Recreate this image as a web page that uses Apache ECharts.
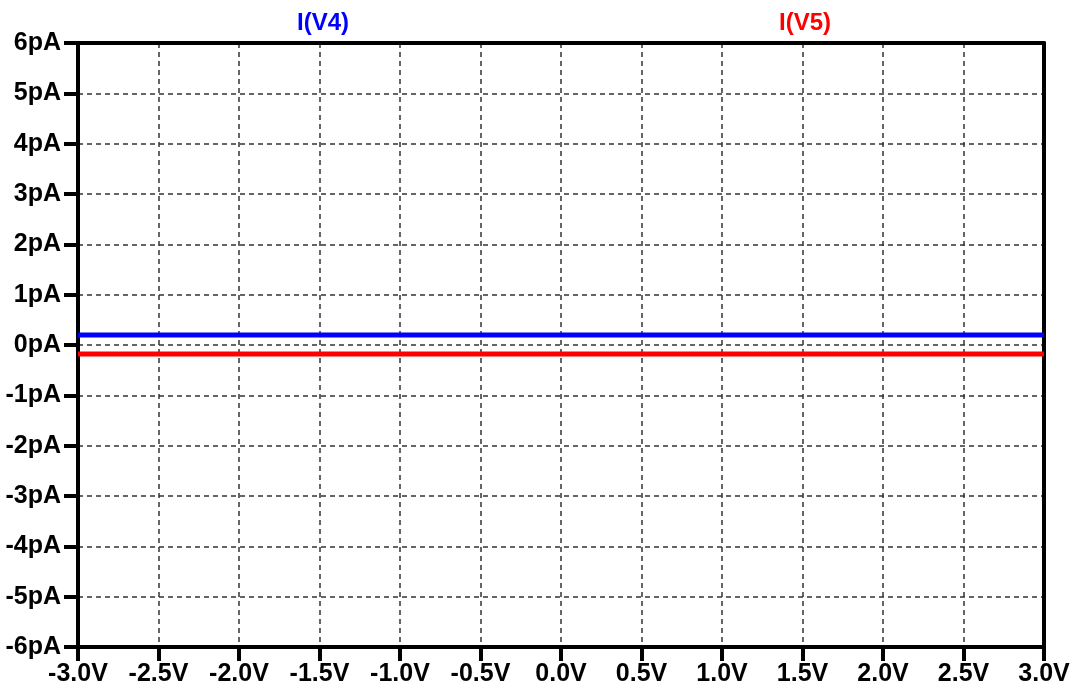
<!DOCTYPE html>
<html>
<head>
<meta charset="utf-8">
<script src="https://cdn.jsdelivr.net/npm/echarts@6/dist/echarts.min.js"></script>
<style>
  html, body { margin: 0; padding: 0; background: #fff; }
  #chart { width: 1080px; height: 694px; }
</style>
</head>
<body>
<div id="chart"></div>
<script>
// Sweep of the source voltage (V) and the two measured branch currents (pA)
const sweepVolts = [-3.0, 3.0];
const currentV4 = [0.2, 0.2];
const currentV5 = [-0.18, -0.18];
const traceNames = ['I(V4)', 'I(V5)'];
const traceColors = ['#0000ff', '#ff0000'];

const FONT = '"Liberation Sans", Arial, sans-serif';

function pairs(xs, ys) {
  return xs.map((x, i) => [x, ys[i]]);
}

const chart = echarts.init(document.getElementById('chart'), null, { renderer: 'canvas' });

const frameLine = { show: true, onZero: false, lineStyle: { color: '#000', width: 4 } };
const labelStyle = { color: '#000', fontFamily: FONT, fontWeight: 'bold', fontSize: 25 };
const gridDash = { show: true, lineStyle: { color: '#333', width: 1.5, type: [5, 4] } };
const outerTick = { show: true, inside: false, length: 14, lineStyle: { color: '#000', width: 4 } };

chart.setOption({
  animation: false,
  backgroundColor: '#fff',
  title: [
    { text: traceNames[0], left: 318, top: 6, textAlign: 'center',
      textStyle: { color: traceColors[0], fontFamily: FONT, fontWeight: 'bold', fontSize: 24 } },
    { text: traceNames[1], left: 800, top: 6, textAlign: 'center',
      textStyle: { color: traceColors[1], fontFamily: FONT, fontWeight: 'bold', fontSize: 24 } }
  ],
  grid: { left: 78, right: 36, top: 43, bottom: 47 },
  xAxis: [
    {
      type: 'value', min: -3, max: 3, interval: 0.5, position: 'bottom',
      axisLine: frameLine, axisTick: outerTick, splitLine: gridDash,
      axisLabel: Object.assign({}, labelStyle, { margin: 15, formatter: v => v.toFixed(1) + 'V' })
    },
    {
      // top edge of the plot frame
      type: 'value', min: -3, max: 3, interval: 0.5, position: 'top',
      axisLine: frameLine, axisTick: { show: false }, axisLabel: { show: false }, splitLine: { show: false }
    }
  ],
  yAxis: [
    {
      type: 'value', min: -6, max: 6, interval: 1, position: 'left',
      axisLine: frameLine, axisTick: outerTick, splitLine: gridDash,
      axisLabel: Object.assign({}, labelStyle, { margin: 17, formatter: v => v + 'pA' })
    },
    {
      // right edge of the plot frame
      type: 'value', min: -6, max: 6, interval: 1, position: 'right',
      axisLine: frameLine, axisTick: { show: false }, axisLabel: { show: false }, splitLine: { show: false }
    }
  ],
  series: [
    { name: traceNames[0], type: 'line', data: pairs(sweepVolts, currentV4),
      showSymbol: false, lineStyle: { color: traceColors[0], width: 5 }, z: 3 },
    { name: traceNames[1], type: 'line', data: pairs(sweepVolts, currentV5),
      showSymbol: false, lineStyle: { color: traceColors[1], width: 5 }, z: 3 }
  ]
});
</script>
</body>
</html>
